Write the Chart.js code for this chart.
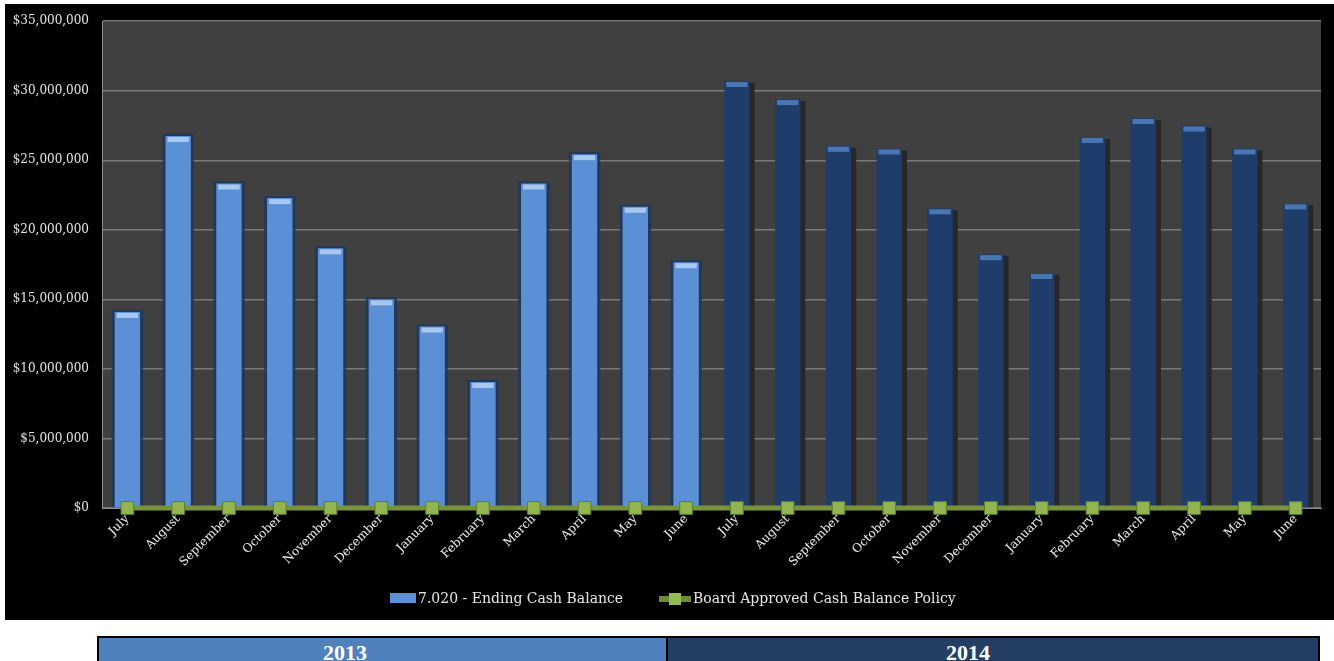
<!DOCTYPE html>
<html>
<head>
<meta charset="utf-8">
<script src="https://cdn.jsdelivr.net/npm/chart.js@4.4.0/dist/chart.umd.min.js"></script>
<style>
  html, body { margin: 0; padding: 0; background: #ffffff; width: 1334px; height: 661px; overflow: hidden; position: relative; }
  #panel { position: absolute; left: 5px; top: 4px; width: 1329px; height: 616px; background: #000000; }
  #c { position: absolute; left: 0; top: -3px; }
  .leg { position: absolute; font-family: "DejaVu Serif", serif; font-size: 14px; color: #e6e6e6; white-space: nowrap; line-height: 16px; }
  #tbl { position: absolute; left: 97px; top: 636px; width: 1223px; height: 40px; background: #000; }
  .cell { position: absolute; top: 2px; height: 36px; }
  .yr { position: absolute; font-family: "Liberation Serif", serif; font-weight: bold; font-size: 22px; line-height: 22px; color: #ffffff; text-align: center; width: 100px; }
</style>
</head>
<body>
<div id="panel">
  <canvas id="c" width="1329" height="619"></canvas>
</div>
<!-- legend -->
<div style="position:absolute;left:390px;top:593px;width:26px;height:10px;background:#5b8fd6;"></div>
<div class="leg" style="left:418px;top:590px;">7.020 - Ending Cash Balance</div>
<div style="position:absolute;left:659px;top:596px;width:32px;height:6px;background:#6f8d38;"></div>
<div style="position:absolute;left:669px;top:593px;width:12px;height:12px;background:#95b955;"></div>
<div class="leg" style="left:693px;top:590px;">Board Approved Cash Balance Policy</div>
<!-- year table -->
<div id="tbl">
  <div class="cell" style="left:2px;width:567px;background:#4f81bd;"></div>
  <div class="cell" style="left:571px;width:650px;background:#243f63;"></div>
</div>
<div class="yr" style="left:295px;top:642px;">2013</div>
<div class="yr" style="left:918px;top:642px;">2014</div>

<script>
const months = ['July','August','September','October','November','December','January','February','March','April','May','June',
                'July','August','September','October','November','December','January','February','March','April','May','June'];
const endingCash2013 = [14100000, 26750000, 23330000, 22280000, 18670000, 15000000, 13050000, 9060000, 23330000, 25440000, 21660000, 17670000];
const endingCash2014 = [30700000, 29400000, 26040000, 25850000, 21550000, 18250000, 16900000, 26680000, 28040000, 27500000, 25850000, 21900000];
const boardPolicy = [0,0,0,0,0,0,0,0,0,0,0,0, 0,0,0,0,0,0,0,0,0,0,0,0];
const yTicks = [0, 5000000, 10000000, 15000000, 20000000, 25000000, 30000000, 35000000];

const endingCash = endingCash2013.concat(endingCash2014);
const barColors = endingCash.map((v, i) => i < endingCash2013.length ? '#5b8fd6' : '#1f3d6b');
const capColors = endingCash.map((v, i) => i < endingCash2013.length ? '#a9c8f0' : '#4a76b2');

const plotBg = {
  id: 'plotBg',
  beforeDraw(chart) {
    const {ctx, chartArea: a} = chart;
    ctx.save();
    ctx.fillStyle = '#404040';
    ctx.fillRect(a.left, a.top, a.right - a.left, a.bottom - a.top);
    ctx.restore();
  }
};

const barFx = {
  id: 'barFx',
  beforeDatasetDraw(chart, args) {
    if (args.meta.type !== 'bar') return;
    const ctx = chart.ctx;
    ctx.save();
    args.meta.data.forEach((el, i) => {
      const w = el.width;
      if (i < endingCash2013.length) {
        ctx.fillStyle = 'rgba(30,55,92,0.85)';
        ctx.fillRect(el.x - w / 2 - 3, el.y - 2, w + 6, el.base - el.y + 2);
      } else {
        ctx.fillStyle = '#272727';
        ctx.fillRect(el.x - w / 2 + 5, el.y + 2, w, el.base - el.y - 2);
      }
    });
    ctx.restore();
  },
  afterDatasetDraw(chart, args) {
    if (args.meta.type !== 'bar') return;
    const ctx = chart.ctx;
    ctx.save();
    args.meta.data.forEach((el, i) => {
      const w = el.width;
      ctx.fillStyle = capColors[i];
      ctx.fillRect(el.x - w / 2 + 2, el.y + 1, w - 4, 5);
    });
    ctx.restore();
  }
};

new Chart(document.getElementById('c'), {
  data: {
    labels: months,
    datasets: [
      {
        type: 'bar',
        label: '7.020 - Ending Cash Balance',
        data: endingCash,
        backgroundColor: barColors,
        borderWidth: 0,
        barPercentage: 0.5,
        categoryPercentage: 1.0,
        order: 2
      },
      {
        type: 'line',
        label: 'Board Approved Cash Balance Policy',
        data: boardPolicy,
        borderColor: '#77933c',
        borderWidth: 5,
        pointStyle: 'rect',
        pointRadius: 9,
        pointBackgroundColor: '#92b552',
        pointBorderColor: '#5f7d2a',
        pointBorderWidth: 1,
        clip: false,
        order: 1
      }
    ]
  },
  options: {
    responsive: false,
    animation: false,
    devicePixelRatio: 1,
    layout: { padding: { top: 13, right: 13, left: 0, bottom: 0 } },
    plugins: { legend: { display: false }, tooltip: { enabled: false } },
    scales: {
      x: {
        grid: { display: false, drawTicks: false },
        border: { display: true, color: '#8c8c8c', width: 1 },
        ticks: {
          color: '#eeeeee',
          font: { family: 'DejaVu Serif', size: 12 },
          minRotation: 45, maxRotation: 45,
          padding: 4,
          autoSkip: false
        },
        afterFit(scale) { scale.height = 112; }
      },
      y: {
        min: 0, max: 35000000,
        afterBuildTicks(scale) { scale.ticks = yTicks.map(v => ({ value: v })); },
        grid: { color: '#7a7a7a', lineWidth: 1.5, drawTicks: false },
        border: { display: true, color: '#8c8c8c', width: 1 },
        ticks: {
          color: '#e6e6e6',
          font: { family: 'DejaVu Serif', size: 12 },
          padding: 13,
          callback: v => '$' + Number(v).toLocaleString('en-US')
        },
        afterFit(scale) { scale.width = 97; }
      }
    }
  },
  plugins: [plotBg, barFx]
});
</script>
</body>
</html>
